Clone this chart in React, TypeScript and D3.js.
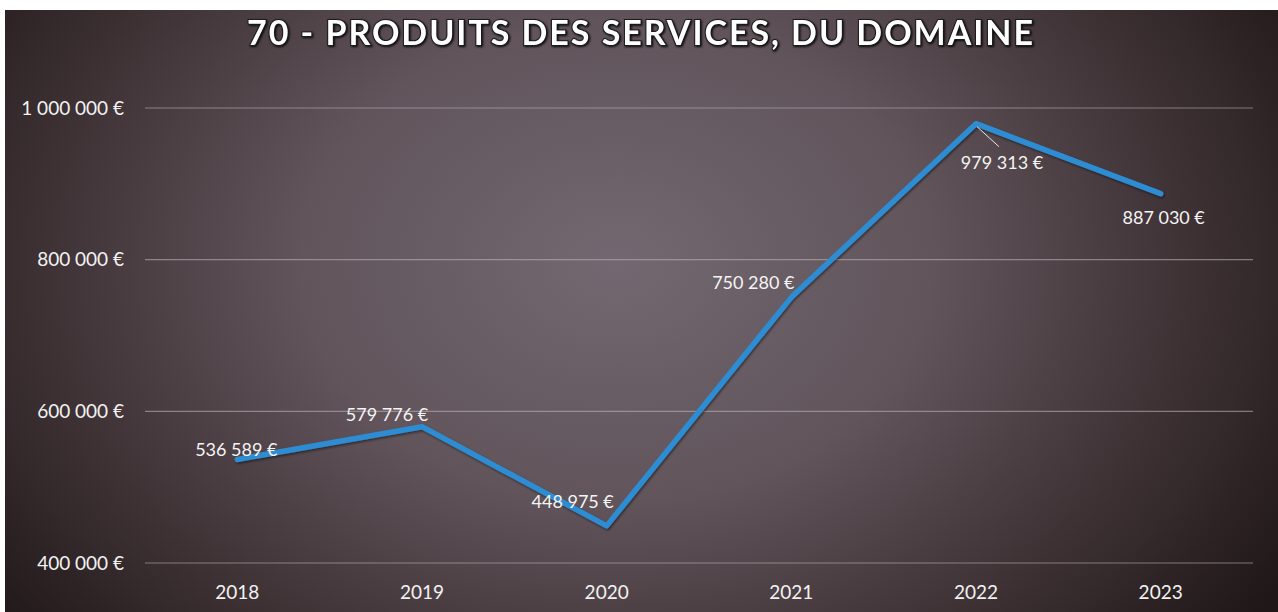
import React from "react";
import * as d3 from "d3";

const title = "70 - PRODUITS DES SERVICES, DU DOMAINE";
const years = ["2018", "2019", "2020", "2021", "2022", "2023"];
const values = [536589, 579776, 448975, 750280, 979313, 887030];
const yTicks = [400000, 600000, 800000, 1000000];
// label placement relative to each point (dx, dy of label centre)
const labelDx = [-1, -35, -34, -38, 26, 3];
const labelDy = [-10, -12, -24, -15, 39, 24];

const W = 1278;
const H = 612;

const locale = d3.formatLocale({
  decimal: ",",
  thousands: "\u00a0",
  grouping: [3],
  currency: ["", "\u00a0€"],
});
const fmt = locale.format("$,.0f");

export default function App() {
  const x = d3.scaleBand<string>().domain(years).range([145, 1253]);
  const y = d3.scaleLinear().domain([400000, 1000000]).range([563, 108]);
  const cx = (d: string) => (x(d) as number) + x.bandwidth() / 2;

  const line = d3
    .line<number>()
    .x((_, i) => cx(years[i]))
    .y((v) => y(v));

  const font = "Lato, 'Open Sans', sans-serif";

  return (
    <svg
      width={W}
      height={H}
      style={{ position: "absolute", left: 0, top: 0 }}
      fontFamily={font}
    >
      <defs>
        <radialGradient id="bg" cx="0.48" cy="0.42" r="0.62" gradientTransform="translate(0.48 0.42) scale(1 1.6) translate(-0.48 -0.42)">
          <stop offset="0%" stopColor="#736871" />
          <stop offset="40%" stopColor="#61545b" />
          <stop offset="75%" stopColor="#3b2f32" />
          <stop offset="100%" stopColor="#1f1718" />
        </radialGradient>
        <filter id="tshadow" x="-5%" y="-30%" width="110%" height="160%">
          <feDropShadow dx="1" dy="1" stdDeviation="1.2" floodColor="#000" floodOpacity="0.9" />
        </filter>
        <filter id="lshadow" x="-5%" y="-5%" width="110%" height="110%">
          <feDropShadow dx="1" dy="1.5" stdDeviation="1" floodColor="#000" floodOpacity="0.5" />
        </filter>
      </defs>
      <rect x={0} y={0} width={W} height={H} fill="#ffffff" />
      <rect x={5} y={10} width={W - 5} height={H - 10} fill="url(#bg)" />

      <text
        x={640}
        y={45}
        textAnchor="middle"
        fontSize={34}
        fontWeight={700}
        fill="#ffffff"
        stroke="#1a1a1a"
        strokeWidth={2}
        paintOrder="stroke"
        textLength={786}
        lengthAdjust="spacing"
        filter="url(#tshadow)"
      >
        {title}
      </text>

      {yTicks.map((t) => (
        <g key={t}>
          <line
            x1={145}
            x2={1253}
            y1={y(t)}
            y2={y(t)}
            stroke="#b9b2b8"
            strokeOpacity={0.6}
            strokeWidth={1.2}
          />
          <text
            x={124}
            y={y(t)}
            dy="0.35em"
            textAnchor="end"
            fontSize={19}
            fill="#f2f2f2"
          >
            {fmt(t)}
          </text>
        </g>
      ))}

      {years.map((yr) => (
        <text
          key={yr}
          x={cx(yr)}
          y={592}
          dy="0.35em"
          textAnchor="middle"
          fontSize={19}
          fill="#f2f2f2"
        >
          {yr}
        </text>
      ))}

      <path
        d={line(values) || ""}
        fill="none"
        stroke="#2d8dd2"
        strokeWidth={5.5}
        strokeLinejoin="round"
        strokeLinecap="round"
        filter="url(#lshadow)"
      />

      {values.map((v, i) => {
        const px = cx(years[i]);
        const py = y(v);
        return (
          <g key={years[i]}>
            {i === 4 && (
              <line
                x1={px + 1}
                y1={py + 3}
                x2={px + 23}
                y2={py + 23}
                stroke="#e8e8e8"
                strokeWidth={1}
              />
            )}
            <text
              x={px + labelDx[i]}
              y={py + labelDy[i]}
              dy="0.35em"
              textAnchor="middle"
              fontSize={18}
              fill="#f4f4f4"
            >
              {fmt(v)}
            </text>
          </g>
        );
      })}
    </svg>
  );
}
